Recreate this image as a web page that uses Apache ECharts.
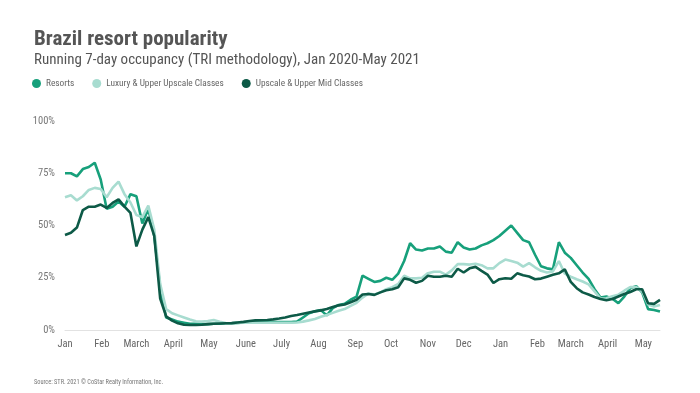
<!DOCTYPE html>
<html>
<head>
<meta charset="utf-8">
<script src="https://cdn.jsdelivr.net/npm/echarts@6/dist/echarts.min.js"></script>
<style>
html,body{margin:0;padding:0;background:#fff;}
#c{width:700px;height:393px;}
</style>
</head>
<body>
<div id="c"></div>
<script>
// Sampled every 5 days from 2020-01-01 to 2021-05-15 (running 7-day occupancy, %)
const stepDays = 5;
const monthNames = ['Jan','Feb','March','April','May','June','July','Aug','Sep','Oct','Nov','Dec'];
const yTicks = ['0%','25%','50%','75%','100%'];

const resorts = [
  75,75,73.5,77,78,80,72,58,59,61.5,59,65,64,51,58,45,20,6,5,4,
  3.5,3,3,2.8,2.8,3,3,3.2,3.2,3.4,3.6,3.6,3.8,3.8,3.8,3.8,3.8,3.8,3.8,4,
  6,8,9,9.5,7,10.5,12,12.5,14.5,16,26,24.5,23,23.5,25,24,27,33,41.5,38.5,
  38,39,39,40,37.5,37,42,39.5,38.5,39,40.5,41.5,43,45,47.5,50,46.5,43,42,36,
  30.5,29.5,29,42,37,34.5,31,27.5,24.5,19.5,15.5,16,15,12.8,16,20,21,18,10,9.6,
  8.8
];
const luxury = [
  63.5,64.5,62,64,67,68,67.5,63.5,68,71,65,61,55,54,59.5,48,22,10,8,7,
  6,5,4.2,4,4.3,4.8,4,3.3,3.2,3.4,3.5,3.6,3.5,3.5,3.5,3.5,3.5,3.5,3.5,3.6,
  4,4.6,5.3,6.3,7.2,8.2,9.2,10,11.5,13,15.5,17.5,17,18,19.5,20.5,22,26,24.7,24.7,
  25,27.2,27.9,27.9,26.5,28.5,31.5,31.5,31.3,31.7,31,29.5,29.5,32,33.7,33,32.2,30.3,32,30,
  28.3,27.5,28,33,27,25.5,24.3,23.2,21.8,18.5,15,15.2,16.2,16.9,18.8,20.5,20.5,18.5,12.2,11.2,
  12
];
const upscale = [
  45.5,46.5,49,57.4,59,59,60,58.4,60.8,62.5,59,56,40,48,54,45,15,6.5,4.5,3.2,
  2.5,2.4,2.4,2.5,2.8,3,3.1,3.2,3.3,3.6,3.9,4.3,4.6,4.7,4.8,5.1,5.5,6,6.7,7.2,
  7.8,8.4,8.9,9.4,10,11,11.8,12.2,13.3,14.5,17,17.2,16.8,18,19,19.5,20.5,24.7,24,22.6,
  23.5,26,25.5,25.5,26,25.5,29.3,27.5,29.5,30.2,28.3,26.5,22.5,24.3,24.8,24.5,27.1,26.2,25.6,24.3,
  24.6,25.5,26.4,27.1,29,23,20,18,17,15.8,14.8,14.2,14.8,16,17.2,18.2,19.5,19.5,12.8,12.5,
  14.4
];

// daily category axis
const days = [];
const start = Date.UTC(2020,0,1);
const nDays = (resorts.length - 1) * stepDays + 1;
for (let i = 0; i < nDays; i++) {
  days.push(new Date(start + i * 86400000).toISOString().slice(0,10));
}
const toPairs = arr => arr.map((v,i) => [i*stepDays, v]);

const textFont = "'Roboto Condensed','Open Sans Condensed','DejaVu Sans Condensed',sans-serif";
const chart = echarts.init(document.getElementById('c'), null, {renderer:'canvas'});
chart.setOption({
  backgroundColor:'#fff',
  animation:false,
  title:[
    {text:'Brazil resort popularity', left:34, top:29, padding:0,
     textStyle:{fontFamily:textFont, fontSize:21, fontWeight:'bold', color:'#555'}},
    {text:'Running 7-day occupancy (TRI methodology), Jan 2020-May 2021', left:34, top:53, padding:0,
     textStyle:{fontFamily:textFont, fontSize:15, fontWeight:'normal', color:'#555'}},
    {text:'Source: STR. 2021 © CoStar Realty Information, Inc.', left:34, top:379, padding:0,
     textStyle:{fontFamily:textFont, fontSize:6.3, fontWeight:'normal', color:'#777'}}
  ],
  legend:{
    left:32, top:79, padding:0, icon:'circle', itemWidth:9, itemHeight:9, itemGap:18,
    textStyle:{fontFamily:textFont, fontSize:9.3, color:'#666'},
    data:['Resorts','Luxury & Upper Upscale Classes','Upscale & Upper Mid Classes']
  },
  grid:{left:65, right:40, top:121, bottom:63},
  xAxis:{
    type:'category', data:days, boundaryGap:false,
    axisLine:{lineStyle:{color:'#e2e2e2', width:1}},
    axisTick:{show:false},
    axisLabel:{
      interval:(idx, val) => val.slice(8) === '01',
      formatter: val => monthNames[parseInt(val.slice(5,7),10)-1],
      fontFamily:textFont, fontSize:10.5, color:'#666', margin:9
    },
    splitLine:{show:false}
  },
  yAxis:{
    type:'value', min:0, max:100, interval:25,
    axisLine:{show:false}, axisTick:{show:false}, splitLine:{show:false},
    axisLabel:{formatter:(v,i) => yTicks[i], fontFamily:textFont, fontSize:10.5, color:'#777', margin:10}
  },
  series:[
    {name:'Resorts', type:'line', data:toPairs(resorts), showSymbol:false, z:2,
     lineStyle:{width:2.6, color:'#17a07b'}, itemStyle:{color:'#17a07b'}},
    {name:'Luxury & Upper Upscale Classes', type:'line', data:toPairs(luxury), showSymbol:false, z:3,
     lineStyle:{width:2.6, color:'#a8dcd0'}, itemStyle:{color:'#a8dcd0'}},
    {name:'Upscale & Upper Mid Classes', type:'line', data:toPairs(upscale), showSymbol:false, z:4,
     lineStyle:{width:2.6, color:'#0d5a47'}, itemStyle:{color:'#0d5a47'}}
  ]
});
</script>
</body>
</html>
